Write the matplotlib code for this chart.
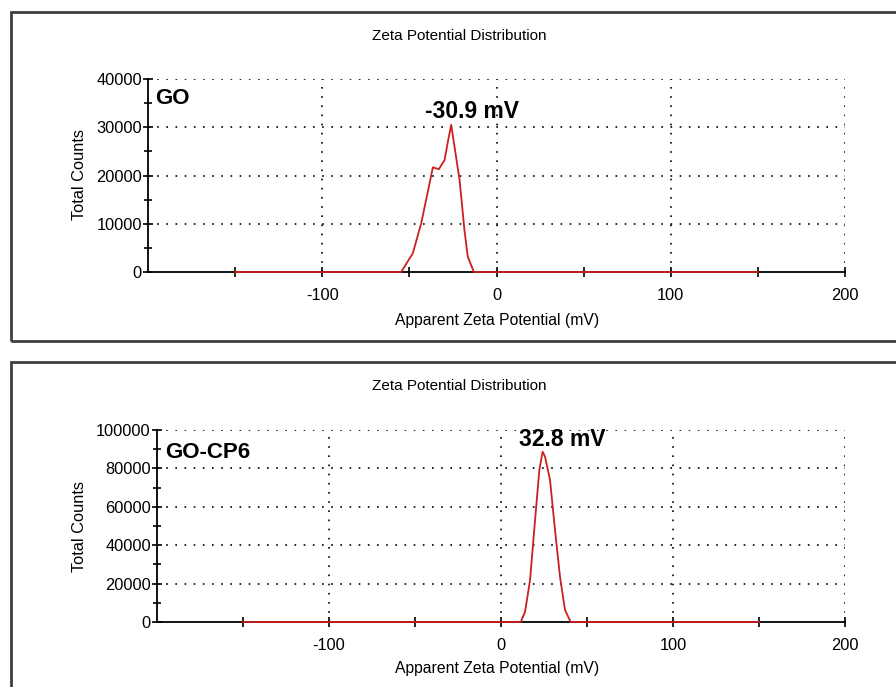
import matplotlib
matplotlib.use("Agg")
import matplotlib.pyplot as plt
from matplotlib.patches import Rectangle
from matplotlib.ticker import MultipleLocator, FixedLocator, FixedFormatter

# Zeta potential distributions (mV vs total counts)
go_mv = [-150, -54.7, -48.0, -43.2, -36.5, -33.1, -29.8, -27.9, -26.0, -24.7,
         -21.2, -18.4, -16.5, -13.0, 150]
go_counts = [0, 0, 3900, 10100, 21700, 21300, 23200, 27000, 30500, 27400,
             19100, 8700, 3200, 0, 0]

gocp6_mv = [-150, 11.5, 14.0, 16.9, 19.8, 22.3, 24.2, 25.6, 28.5, 31.4,
            34.3, 37.2, 40.5, 150]
gocp6_counts = [0, 0, 5400, 21900, 53100, 79200, 88700, 86100, 74000, 47900,
                23600, 6300, 0, 0]

go_label = "-30.9 mV"
gocp6_label = "32.8 mV"
x_tick_labels = ["-100", "0", "100", "200"]

W, H = 896, 687
fig = plt.figure(figsize=(W / 100, H / 100), dpi=100)
fig.patch.set_facecolor("white")

regular = ["Liberation Sans", "DejaVu Sans"]

def px_rect(x0, y0, x1, y1):
    return [x0 / W, 1 - y1 / H, (x1 - x0) / W, (y1 - y0) / H]

def panel(rect_px, frame_px, xs, ys, ymax, ymajor, yminor, sample, label,
          sample_xy, label_xy, title_y, xlabel_y, ylabel_y):
    # outer frame of the panel
    fx0, fy0, fx1, fy1 = frame_px
    fig.add_artist(Rectangle((fx0 / W, 1 - fy1 / H), (fx1 - fx0) / W,
                             (fy1 - fy0) / H, transform=fig.transFigure,
                             fill=False, edgecolor="#404040", lw=2.0))
    ax = fig.add_axes(px_rect(*rect_px))
    ax.set_facecolor("none")
    ax.set_xlim(-200, 200)
    ax.set_ylim(0, ymax)
    for s in ("top", "right"):
        ax.spines[s].set_visible(False)
    for s in ("left", "bottom"):
        ax.spines[s].set_color("black")
        ax.spines[s].set_linewidth(1.3)

    # dotted grid
    for gx in (-100, 0, 100, 200):
        ax.axvline(gx, color="black", lw=1.2, ls=(0, (1, 4.5)), zorder=1)
    yv = ymajor
    while yv <= ymax + 1:
        ax.axhline(yv, color="black", lw=1.2, ls=(0, (1, 4.5)), zorder=1)
        yv += ymajor

    ax.plot(xs, ys, color="#cc1f1f", lw=1.3, zorder=3, clip_on=False)

    ax.xaxis.set_major_locator(FixedLocator([-150, -100, -50, 0, 50, 100, 150, 200]))
    ax.xaxis.set_major_formatter(FixedFormatter(["", x_tick_labels[0], "", x_tick_labels[1],
                                                 "", x_tick_labels[2], "", x_tick_labels[3]]))
    ax.yaxis.set_major_locator(MultipleLocator(ymajor))
    ax.yaxis.set_minor_locator(MultipleLocator(yminor))
    ax.yaxis.set_major_formatter(matplotlib.ticker.FuncFormatter(lambda v, p: f"{int(v)}"))
    ax.tick_params(axis="x", direction="inout", length=7, width=1.2, pad=8,
                   labelsize=11.8, colors="black")
    ax.tick_params(axis="y", which="major", direction="inout", length=7, width=1.2,
                   pad=1, labelsize=11.8)
    ax.tick_params(axis="y", which="minor", direction="inout", length=6, width=1.2)
    for t in ax.get_xticklabels() + ax.get_yticklabels():
        t.set_family(regular)

    ax.text(sample_xy[0], sample_xy[1], sample, ha="left", va="center",
            fontsize=16, fontweight="bold", family=regular)
    ax.text(label_xy[0], label_xy[1], label, ha="center", va="center",
            fontsize=16.5, fontweight="bold", family=regular)

    fig.text(459 / W, 1 - title_y / H, "Zeta Potential Distribution",
             ha="center", va="center", fontsize=11, family=regular)
    fig.text(497 / W, 1 - xlabel_y / H, "Apparent Zeta Potential (mV)",
             ha="center", va="center", fontsize=11.3, family=regular)
    fig.text(79 / W, 1 - ylabel_y / H, "Total Counts", rotation=90,
             ha="center", va="center", fontsize=11.8, family=regular)
    return ax

panel((148, 79, 845, 272), (11, 12, 905, 341), go_mv, go_counts,
      40000, 10000, 5000, "GO", go_label, (-196, 36000), (-13.8, 33200),
      36, 320, 175)
panel((157, 430, 845, 622), (11, 362, 905, 700), gocp6_mv, gocp6_counts,
      100000, 20000, 10000, "GO-CP6", gocp6_label, (-195, 88500), (35.5, 94800),
      386, 668, 526)

fig.savefig("out.png", dpi=100, facecolor="white")
